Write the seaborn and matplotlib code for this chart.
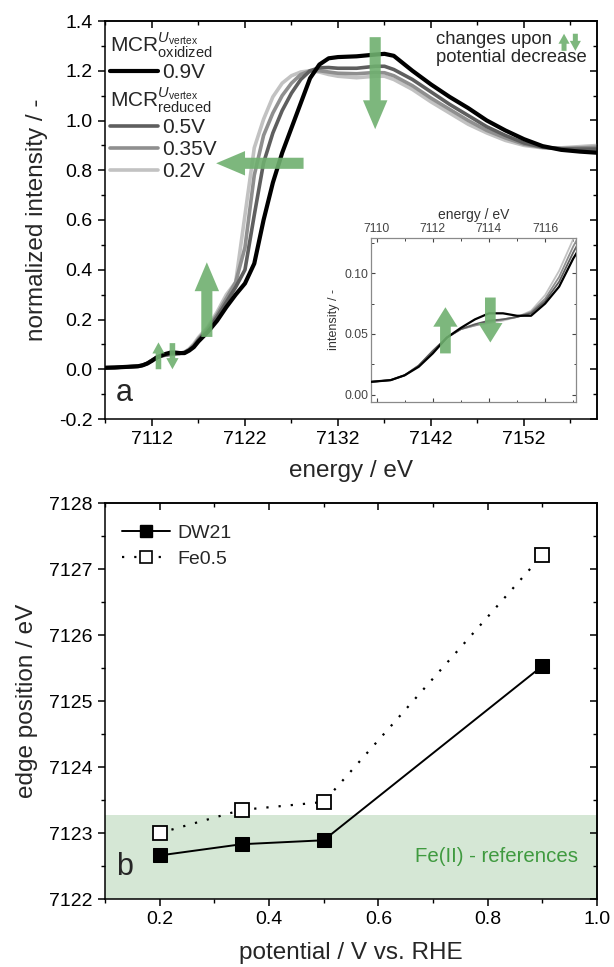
import numpy as np
import pandas as pd
import matplotlib
matplotlib.use("Agg")
import matplotlib.pyplot as plt
import seaborn as sns
from matplotlib.lines import Line2D
from matplotlib.ticker import FixedLocator, MultipleLocator, FormatStrFormatter

# ---------------- data: panel a (XANES spectra) ----------------
energy = [7107, 7108, 7109, 7109.5, 7110, 7110.5, 7111, 7111.5, 7112, 7112.5,
          7113, 7113.5, 7114, 7114.5, 7115, 7115.5, 7116, 7116.5, 7117,
          7118, 7119, 7120, 7121, 7122, 7123, 7124, 7125, 7126, 7127, 7128,
          7129, 7130, 7131, 7132, 7134, 7136, 7137, 7138, 7140, 7142, 7144,
          7146, 7148, 7150, 7152, 7154, 7156, 7158, 7160]

mcr_0p9V = [0.006, 0.007, 0.009, 0.010, 0.011, 0.012, 0.016, 0.023, 0.034, 0.047,
            0.055, 0.062, 0.067, 0.067, 0.065, 0.065, 0.075, 0.089, 0.112,
            0.15, 0.195, 0.25, 0.30, 0.345, 0.425, 0.60, 0.75, 0.87, 0.97, 1.07,
            1.17, 1.225, 1.25, 1.255, 1.258, 1.265, 1.268, 1.26, 1.20, 1.145, 1.095,
            1.05, 1.00, 0.96, 0.925, 0.897, 0.882, 0.875, 0.870]

mcr_0p5V = [0.006, 0.007, 0.009, 0.010, 0.011, 0.012, 0.016, 0.024, 0.036, 0.047,
            0.054, 0.058, 0.061, 0.062, 0.064, 0.067, 0.077, 0.093, 0.117,
            0.16, 0.21, 0.27, 0.33, 0.40, 0.62, 0.83, 0.95, 1.04, 1.11, 1.165,
            1.20, 1.212, 1.213, 1.21, 1.21, 1.218, 1.218, 1.205, 1.165, 1.115, 1.065,
            1.02, 0.975, 0.94, 0.91, 0.893, 0.886, 0.885, 0.885]

mcr_0p35V = [0.006, 0.007, 0.009, 0.010, 0.011, 0.012, 0.016, 0.024, 0.036, 0.047,
             0.054, 0.057, 0.060, 0.062, 0.064, 0.068, 0.079, 0.097, 0.122,
             0.165, 0.22, 0.285, 0.35, 0.49, 0.78, 0.94, 1.03, 1.10, 1.15, 1.185,
             1.20, 1.20, 1.195, 1.19, 1.188, 1.193, 1.192, 1.18, 1.14, 1.09, 1.045,
             1.00, 0.96, 0.93, 0.905, 0.892, 0.888, 0.89, 0.893]

mcr_0p2V = [0.006, 0.007, 0.009, 0.010, 0.011, 0.012, 0.016, 0.024, 0.036, 0.047,
            0.054, 0.057, 0.059, 0.061, 0.064, 0.069, 0.082, 0.102, 0.128,
            0.17, 0.23, 0.30, 0.35, 0.62, 0.89, 1.005, 1.095, 1.15, 1.18, 1.195,
            1.20, 1.195, 1.185, 1.178, 1.172, 1.178, 1.178, 1.165, 1.125, 1.075, 1.03,
            0.985, 0.95, 0.92, 0.90, 0.89, 0.89, 0.895, 0.90]

series_labels = ["0.9V", "0.5V", "0.35V", "0.2V"]
series_colors = ["#000000", "#5e5e5e", "#8f8f8f", "#c2c2c2"]

# ---------------- data: panel b (edge positions) ----------------
potential = [0.2, 0.35, 0.5, 0.9]
edge_DW21 = [7122.66, 7122.83, 7122.89, 7125.53]
edge_Fe05 = [7123.00, 7123.35, 7123.47, 7127.21]
fe2_band = [7122.0, 7123.27]

# ---------------- style ----------------
sns.set_theme(style="ticks")
plt.rcParams["font.family"] = ["Liberation Sans", "DejaVu Sans"]
plt.rcParams["mathtext.fontset"] = "custom"
plt.rcParams["mathtext.rm"] = "Liberation Sans"
plt.rcParams["mathtext.it"] = "Liberation Sans:italic"
plt.rcParams["mathtext.bf"] = "Liberation Sans:bold"
plt.rcParams["axes.linewidth"] = 1.1
plt.rcParams["axes.edgecolor"] = "black"
plt.rcParams["xtick.color"] = "black"
plt.rcParams["ytick.color"] = "black"

GREEN = "#6fb06f"
W, H = 614, 967
fig = plt.figure(figsize=(W / 100, H / 100), dpi=100)


def rect(l, t, r, b):
    return [l / W, 1 - b / H, (r - l) / W, (b - t) / H]


ax1 = fig.add_axes(rect(105, 21, 597, 419))
ax2 = fig.add_axes(rect(105, 503, 597, 899))
axin = fig.add_axes(rect(371, 238, 576, 402))

df = pd.DataFrame({"energy": energy, "0.9V": mcr_0p9V, "0.5V": mcr_0p5V,
                   "0.35V": mcr_0p35V, "0.2V": mcr_0p2V})

lw_main = {"0.9V": 3.0, "0.5V": 2.6, "0.35V": 2.6, "0.2V": 2.6}
lw_in = {"0.9V": 1.6, "0.5V": 1.3, "0.35V": 1.3, "0.2V": 1.3}
for lab, col in list(zip(series_labels, series_colors))[::-1]:
    sns.lineplot(data=df, x="energy", y=lab, color=col, lw=lw_main[lab], ax=ax1,
                 legend=False, zorder=3 if lab == "0.9V" else 2)
    sns.lineplot(data=df, x="energy", y=lab, color=col, lw=lw_in[lab], ax=axin,
                 legend=False, zorder=3 if lab == "0.9V" else 2)


def style_box(ax, xmaj, xmin, ymaj, ymin, length=5, mlen=3, lsize=14):
    ax.set_xticks(xmaj)
    ax.xaxis.set_minor_locator(FixedLocator(xmin))
    ax.set_yticks(ymaj)
    ax.yaxis.set_minor_locator(FixedLocator(ymin))
    ax.tick_params(which="major", direction="out", length=length, width=1.1,
                   labelsize=lsize, pad=4)
    ax.tick_params(which="minor", direction="out", length=mlen, width=1.0)
    for s in ax.spines.values():
        s.set_visible(True)
        s.set_linewidth(1.1)
    sx = ax.secondary_xaxis("top")
    sx.set_xticks(xmaj)
    sx.xaxis.set_minor_locator(FixedLocator(xmin))
    sx.tick_params(which="major", direction="in", length=length, width=1.1, labeltop=False)
    sx.tick_params(which="minor", direction="in", length=mlen, width=1.0)
    sy = ax.secondary_yaxis("right")
    sy.set_yticks(ymaj)
    sy.yaxis.set_minor_locator(FixedLocator(ymin))
    sy.tick_params(which="major", direction="in", length=length, width=1.1, labelright=False)
    sy.tick_params(which="minor", direction="in", length=mlen, width=1.0)


# ---------------- panel a ----------------
ax1.set_xlim(7106.95, 7159.85)
ax1.set_ylim(-0.2, 1.4)
style_box(ax1, [7112, 7122, 7132, 7142, 7152], [7107, 7117, 7127, 7137, 7147, 7157],
          np.round(np.arange(-0.2, 1.41, 0.2), 1), np.round(np.arange(-0.1, 1.4, 0.2), 1))
ax1.yaxis.set_major_formatter(FormatStrFormatter("%.1f"))
ax1.set_xlabel("energy / eV", fontsize=17.5, labelpad=8)
ax1.set_ylabel("normalized intensity / -", fontsize=17.5, labelpad=8)

hdr_ox = Line2D([], [], color="none")
hdr_red = Line2D([], [], color="none")
lines = [Line2D([], [], color=c, lw=lw_main[l]) for l, c in zip(series_labels, series_colors)]
fs_leg = 15
leg = ax1.legend([hdr_ox, lines[0], hdr_red, lines[1], lines[2], lines[3]],
                 [r"$\mathrm{MCR}^{U_\mathrm{vertex}}_\mathrm{oxidized}$", "0.9V",
                  r"$\mathrm{MCR}^{U_\mathrm{vertex}}_\mathrm{reduced}$", "0.5V", "0.35V", "0.2V"],
                 loc="upper left", bbox_to_anchor=(0.0, 0.99), frameon=False,
                 fontsize=fs_leg, handlelength=2.3, handletextpad=0.2,
                 labelspacing=0.15, borderaxespad=0.1, borderpad=0.15)
shift = (2.3 + 0.2) * fs_leg * 100 / 72
for i in (0, 2):
    leg.get_texts()[i].set_x(-shift)

arrow_kw = dict(arrowstyle="simple,head_length=1.3,head_width=1.1,tail_width=0.5",
                mutation_scale=16, color=GREEN, alpha=0.9, shrinkA=0, shrinkB=0, lw=0)
ax1.annotate("", xy=(7136, 0.965), xytext=(7136, 1.335), arrowprops=arrow_kw, zorder=5)
ax1.annotate("", xy=(7118.9, 0.828), xytext=(7128.3, 0.828), arrowprops=arrow_kw, zorder=5)
ax1.annotate("", xy=(7117.9, 0.43), xytext=(7117.9, 0.13), arrowprops=arrow_kw, zorder=5)
small_kw = dict(arrowstyle="simple,head_length=1.0,head_width=1.1,tail_width=0.5",
                mutation_scale=8, color=GREEN, alpha=0.9, shrinkA=0, shrinkB=0, lw=0)
ax1.annotate("", xy=(7112.7, 0.108), xytext=(7112.7, 0.0), arrowprops=small_kw, zorder=5)
ax1.annotate("", xy=(7114.2, 0.0), xytext=(7114.2, 0.105), arrowprops=small_kw, zorder=5)

ax1.text(0.673, 0.975, "changes upon\npotential decrease", transform=ax1.transAxes,
         ha="left", va="top", fontsize=13.3, linespacing=1.1)
key_kw = dict(arrowstyle="simple,head_length=0.9,head_width=1.0,tail_width=0.45",
              mutation_scale=8, color=GREEN, alpha=0.9, shrinkA=0, shrinkB=0, lw=0)
ax1.annotate("", xy=(0.933, 0.968), xytext=(0.933, 0.925), xycoords="axes fraction",
             textcoords="axes fraction", arrowprops=key_kw)
ax1.annotate("", xy=(0.956, 0.925), xytext=(0.956, 0.968), xycoords="axes fraction",
             textcoords="axes fraction", arrowprops=key_kw)
ax1.text(0.04, 0.065, "a", transform=ax1.transAxes, ha="center", va="center", fontsize=22)

# ---------------- inset ----------------
axin.set_facecolor("white")
axin.set_xlim(7109.8, 7117.1)
axin.set_ylim(-0.006, 0.129)
axin.set_xticks([7110, 7112, 7114, 7116])
axin.xaxis.set_minor_locator(MultipleLocator(1))
axin.set_yticks([0.0, 0.05, 0.10])
axin.yaxis.set_minor_locator(MultipleLocator(0.025))
axin.yaxis.set_major_formatter(FormatStrFormatter("%.2f"))
axin.xaxis.tick_top()
axin.xaxis.set_label_position("top")
axin.tick_params(which="both", direction="in", top=True, bottom=True, left=True, right=True,
                 labelsize=8.7, colors="#444444", pad=2)
axin.tick_params(which="major", length=3, width=0.8)
axin.tick_params(which="minor", length=1.8, width=0.7)
for s in axin.spines.values():
    s.set_color("#8a8a8a")
    s.set_linewidth(0.9)
axin.set_xlabel("energy / eV", fontsize=10, color="#333333", labelpad=3)
axin.set_ylabel("intensity / -", fontsize=9, color="#333333", labelpad=3)
in_kw = dict(arrowstyle="simple,head_length=1.0,head_width=1.25,tail_width=0.55",
             mutation_scale=14, color=GREEN, alpha=0.9, shrinkA=0, shrinkB=0, lw=0)
axin.annotate("", xy=(7112.45, 0.072), xytext=(7112.45, 0.034), arrowprops=in_kw, zorder=5)
axin.annotate("", xy=(7114.05, 0.043), xytext=(7114.05, 0.080), arrowprops=in_kw, zorder=5)

# ---------------- panel b ----------------
ax2.set_xlim(0.1, 1.0)
ax2.set_ylim(7122, 7128)
ax2.axhspan(fe2_band[0], fe2_band[1], color="#d5e7d5", zorder=0, lw=0)
sns.lineplot(x=potential, y=edge_DW21, ax=ax2, color="black", lw=1.4, marker="s",
             markersize=10, markerfacecolor="black", markeredgecolor="black", zorder=3)
sns.lineplot(x=potential, y=edge_Fe05, ax=ax2, color="black", lw=1.6, ls=(0, (1, 4.5)),
             marker="s", markersize=10, markerfacecolor="white", markeredgecolor="black",
             markeredgewidth=1.3, zorder=3)
style_box(ax2, [0.2, 0.4, 0.6, 0.8, 1.0], [0.1, 0.3, 0.5, 0.7, 0.9],
          list(range(7122, 7129)), [7122.5 + i for i in range(6)])
ax2.xaxis.set_major_formatter(FormatStrFormatter("%.1f"))
ax2.yaxis.set_major_formatter(FormatStrFormatter("%d"))
ax2.set_xlabel("potential / V vs. RHE", fontsize=17.5, labelpad=10)
ax2.set_ylabel("edge position / eV", fontsize=17.5, labelpad=8)

h1 = Line2D([], [], color="black", lw=1.4, marker="s", markersize=9,
            markerfacecolor="black", markeredgecolor="black")
h2 = Line2D([], [], color="black", lw=1.6, ls=(0, (1, 4.5)), marker="s", markersize=9,
            markerfacecolor="white", markeredgecolor="black", markeredgewidth=1.2)
ax2.legend([h1, h2], ["DW21", "Fe0.5"], loc="upper left", bbox_to_anchor=(0.01, 0.975),
           frameon=False, fontsize=14, handlelength=2.5, handletextpad=0.35,
           labelspacing=0.4, borderaxespad=0.2)
ax2.text(0.962, 7122.64, "Fe(II) - references", transform=ax2.get_yaxis_transform(),
         ha="right", va="center", fontsize=14.7, color="#3f9a3f")
ax2.text(0.04, 0.081, "b", transform=ax2.transAxes, ha="center", va="center", fontsize=22)

fig.savefig("out.png", dpi=100)
